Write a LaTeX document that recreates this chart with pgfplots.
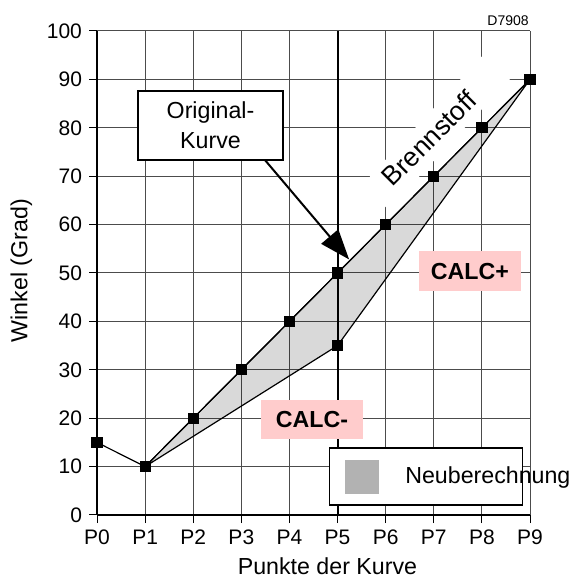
\documentclass[border=0pt]{standalone}
\usepackage{pgfplots}
\pgfplotsset{compat=1.18}
\usepackage{fontspec}
\setmainfont{Liberation Sans}
\usetikzlibrary{arrows.meta}
\definecolor{calcpink}{RGB}{255,204,204}
\definecolor{leggray}{RGB}{178,178,178}
\newcommand{\lab}{\fontsize{11.6}{15}\selectfont}
\begin{document}
\begin{tikzpicture}
\begin{axis}[
  set layers,
  at={(0,0)}, anchor=south west,
  scale only axis, width=216.5pt, height=242pt,
  xmin=0, xmax=9, ymin=0, ymax=100,
  xtick={0,1,2,3,4,5,6,7,8,9},
  xticklabels={P0,P1,P2,P3,P4,P5,P6,P7,P8,P9},
  ytick={0,10,...,100},
  grid=major, grid style={black!70, line width=0.5pt},
  axis x line=bottom, axis y line=left,
  axis line style={-, black, line width=0.6pt},
  tick align=outside, major tick length=4pt,
  tick style={black, line width=0.5pt},
  ticklabel style={font=\fontsize{10.5}{12}\selectfont},
  /pgf/number format/assume math mode=true,
  clip=false,
]
\begin{pgfonlayer}{pre main}
\node[fill=white, rotate=47, minimum width=95pt, minimum height=18pt, inner sep=0pt] at (axis cs:7.13,80.0) {};
\end{pgfonlayer}
% recalculated area
\addplot[draw=black, line width=0.6pt, fill=black, fill opacity=0.15] coordinates {
 (1,10) (2,20) (3,30) (4,40) (5,50) (6,60) (7,70) (8,80) (9,90) (5,35) (1,10)};
% vertical line at P5
\addplot[black, line width=1pt] coordinates {(5,0) (5,100)};
% original curve
\addplot[black, line width=0.6pt, mark=square*, mark size=2.5pt] coordinates {
 (0,15) (1,10) (2,20) (3,30) (4,40) (5,50) (6,60) (7,70) (8,80) (9,90)};
\addplot[only marks, black, mark=square*, mark size=2.5pt] coordinates {(5,35)};

\node[rotate=45, inner sep=0pt, font=\fontsize{13.3}{15}\selectfont] at (axis cs:6.90,77.8) {Brennstoff};

\node[draw=black, line width=0.7pt, fill=white, minimum width=72.5pt, minimum height=34.5pt, inner sep=0pt, align=center, font=\lab] at (axis cs:2.36,80.5) {Original-\\Kurve};
\draw[line width=1pt, -{Triangle[length=15pt, width=11pt]}] (axis cs:3.49,73.35) -- (axis cs:5.24,52.8);

\node[fill=calcpink, minimum width=51pt, minimum height=20pt, inner sep=0pt, font=\lab\bfseries] at (axis cs:7.75,50.4) {CALC+};
\node[fill=calcpink, minimum width=51pt, minimum height=19.5pt, inner sep=0pt, font=\lab\bfseries] at (axis cs:4.47,19.75) {CALC-};

\node[draw=black, line width=0.6pt, fill=white, minimum width=96.5pt, minimum height=28.5pt, inner sep=0pt] at (axis cs:6.83,7.96) {};
\node[fill=leggray, minimum size=17pt, inner sep=0pt] at (axis cs:5.51,7.85) {};
\node[anchor=west, inner sep=0pt, font=\lab] at (axis cs:6.40,7.85) {Neuberechnung};

\node[anchor=base east, inner sep=0pt, font=\fontsize{7}{8}\selectfont] at (axis cs:8.98,101.2) {D7908};
\node[rotate=90, font=\lab] at (axis cs:-1.57,50.5) {Winkel (Grad)};
\node[font=\lab] at (axis cs:4.79,-10.54) {Punkte der Kurve};
\end{axis}
\pgfresetboundingbox
\useasboundingbox (-48.5pt,-33pt) rectangle (240pt,257.5pt);
\end{tikzpicture}
\end{document}
